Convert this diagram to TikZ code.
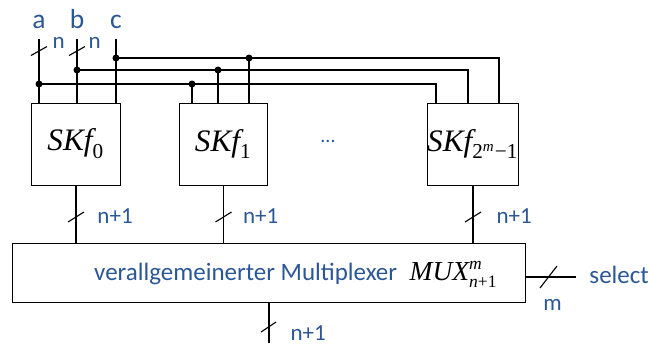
\documentclass[tikz,border=0pt]{standalone}
\usepackage{fontspec}
\setmainfont{Carlito}
\newfontfamily\tnr{Liberation Serif}
\usetikzlibrary{positioning, calc}
\definecolor{txtblue}{HTML}{2B5797}
\newcommand{\skfn}[1]{$\mbox{\tnr\itshape SKf}_{#1}$}

\begin{document}
\begin{tikzpicture}[x=0.4pt, y=-0.4pt,
        block/.style={draw, minimum width=35.2pt, minimum height=32.8pt, inner sep=0pt, outer sep=0pt,
                      font=\tnr\fontsize{12.5}{14}\selectfont},
        muxbox/.style={draw, minimum width=204.8pt, minimum height=23.6pt, inner sep=0pt, outer sep=0pt},
        wire/.style={line width=0.45pt},
        dot/.style={circle, fill, inner sep=0pt, minimum size=2.8pt},
        lbl/.style={text=txtblue, font=\fontsize{9.2}{11}\selectfont, inner sep=0pt, anchor=base west},
        inlbl/.style={text=txtblue, font=\fontsize{11}{12}\selectfont, inner sep=0pt, anchor=base}
    ]
    \useasboundingbox (0,0) rectangle (649,343);

    % Row 1: SK blocks
    \node[block] (sk0) at (76,144)    {\skfn{\mbox{\tnr\fontsize{8.5}{9}\selectfont 0}}};
    \node[block] (sk1) at (223.5,144) {\skfn{\mbox{\tnr\fontsize{8.5}{9}\selectfont 1}}};
    \node[block] (skl) at (473,144)
        {\skfn{\mbox{\tnr\fontsize{8.5}{9}\selectfont 2}^{\mbox{\tnr\itshape\fontsize{6}{7}\selectfont m}}\mbox{\tnr\fontsize{8.5}{9}\selectfont −1}}};
    \node[text=txtblue, font=\footnotesize, inner sep=0pt] (dots) at (328,141) {...};

    % Row 2: Multiplexer
    \node[muxbox] (mux) at (269,272.5) {};
    \node[text=txtblue, font=\fontsize{10}{12}\selectfont, inner sep=0pt] (muxlbl) at (296,274)
        {verallgemeinerter Multiplexer\enspace\textcolor{black}{$\mbox{\tnr\itshape\fontsize{11}{12}\selectfont MUX}^{\mbox{\tnr\itshape\scriptsize m}}_{\mbox{\tnr\itshape\scriptsize n}\mbox{\tnr\scriptsize +1}}$}};

    % Inputs
    \coordinate (ina) at (39,39);
    \coordinate (inb) at (77,39);
    \coordinate (inc) at (116,39);
    \node[inlbl] (la) at (39,28)  {a};
    \node[inlbl] (lb) at (77,28)  {b};
    \node[inlbl] (lc) at (116,28) {c};
    \node[lbl] (na) at (52,48) {n};
    \node[lbl] (nb) at (88,48) {n};

    % Junctions
    \node[dot] (da0) at (39,84)  {};
    \node[dot] (db0) at (77,70)  {};
    \node[dot] (dc0) at (116,58) {};
    \node[dot] (da1) at (192,84) {};
    \node[dot] (db1) at (218,70) {};
    \node[dot] (dc1) at (249,58) {};
    \coordinate (ra) at (436,84);
    \coordinate (rb) at (468,70);
    \coordinate (rc) at (499,58);

    % Inputs into first block
    \foreach \i in {ina,inb,inc}
        \draw[wire] (\i) -- (\i |- sk0.north);
    \foreach \i in {ina,inb}
        \draw[wire] ($(\i)+(0,12)$) ++(-8,4.5) -- ++(16,-9);

    % Buses
    \draw[wire] (da0.center) -- (ra) -- (ra |- skl.north);
    \draw[wire] (db0.center) -- (rb) -- (rb |- skl.north);
    \draw[wire] (dc0.center) -- (rc) -- (rc |- skl.north);
    \foreach \d in {da1,db1,dc1}
        \draw[wire] (\d.center) -- (\d |- sk1.north);

    % Block outputs to multiplexer
    \foreach \b/\dx in {sk0/21,sk1/19,skl/23} {
        \draw[wire] (\b.south) -- (\b.south |- mux.north);
        \draw[wire] ($(\b.south)+(0,32)$) ++(-8,5) -- ++(16,-10);
        \node[lbl] at ($(\b.south)+(\dx,38)$) {n+1};
    }

    % Multiplexer output
    \coordinate (out) at (269,343);
    \draw[wire] (mux.south) -- (out);
    \draw[wire] (268.5,327) ++(-7.5,5) -- ++(15,-10);
    \node[lbl] (nout) at (290,340) {n+1};

    % Select
    \coordinate (sel) at (576,277);
    \draw[wire] (mux.east |- sel) -- (sel);
    \draw[wire] (548.5,277) ++(-8.5,11) -- ++(17,-22);
    \node[lbl, font=\fontsize{10}{12}\selectfont] (lsel) at (589,283) {select};
    \node[lbl] (lm) at (543,310) {m};
\end{tikzpicture}
\end{document}
